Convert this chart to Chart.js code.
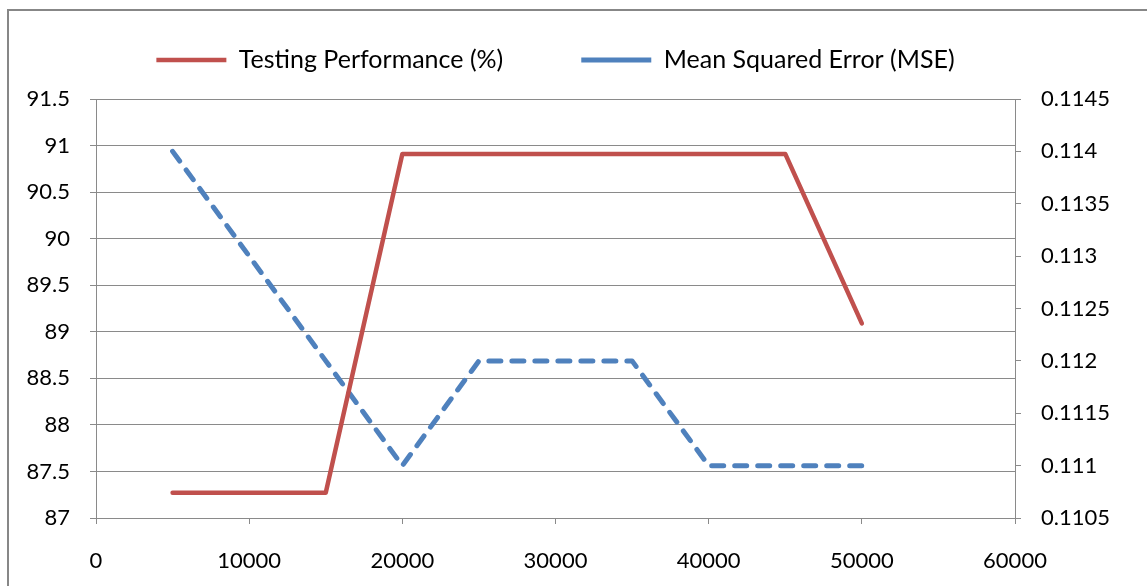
<!DOCTYPE html>
<html>
<head>
<meta charset="utf-8">
<script src="https://cdn.jsdelivr.net/npm/chart.js"></script>
<style>
    html, body { margin: 0; padding: 0; background: #fff; overflow: hidden; }
    #wrap { position: relative; width: 1147px; height: 586px; }
    #frame {
        position: absolute; left: 7px; top: 9px;
        width: 1160px; height: 600px;
        border: 2px solid #878787;
        box-sizing: border-box;
        pointer-events: none;
    }
    canvas { position: absolute; left: 0; top: 0; }
</style>
</head>
<body>
<div id="wrap">
    <canvas id="perfChart" width="1147" height="586"></canvas>
    <div id="frame"></div>
</div>
<script>
// 数据
const iterations = [5000, 10000, 15000, 20000, 25000, 30000, 35000, 40000, 45000, 50000];
const testingPerformance = [87.27, 87.27, 87.27, 90.91, 90.91, 90.91, 90.91, 90.91, 90.91, 89.09];
const meanSquaredError = [0.114, 0.113, 0.112, 0.111, 0.112, 0.112, 0.112, 0.111, 0.111, 0.111];

const xTicks = [0, 10000, 20000, 30000, 40000, 50000, 60000];
const leftTicks = [87, 87.5, 88, 88.5, 89, 89.5, 90, 90.5, 91, 91.5];
const rightTicks = [0.1105, 0.111, 0.1115, 0.112, 0.1125, 0.113, 0.1135, 0.114, 0.1145];

const seriesLabels = ['Testing Performance (%)', 'Mean Squared Error (MSE)'];

const FONT = { family: 'Lato, "Open Sans", sans-serif', size: 22 };
const LEGEND_FONT = { family: 'Lato, "Open Sans", sans-serif', size: 25 };
const GRID = '#8a8a8a';

function toPoints(xs, ys) {
    return xs.map((x, i) => ({ x: x, y: ys[i] }));
}

const ctx = document.getElementById('perfChart').getContext('2d');

new Chart(ctx, {
    type: 'line',
    data: {
        datasets: [
            {
                label: seriesLabels[0],
                data: toPoints(iterations, testingPerformance),
                xAxisID: 'x',
                yAxisID: 'y',
                borderColor: '#C0504D',
                backgroundColor: '#C0504D',
                borderWidth: 4.5,
                borderCapStyle: 'round',
                borderJoinStyle: 'round',
                pointRadius: 0,
                pointStyle: 'line',
                tension: 0,
                fill: false
            },
            {
                label: seriesLabels[1],
                data: toPoints(iterations, meanSquaredError),
                xAxisID: 'x',
                yAxisID: 'y1',
                borderColor: '#4F81BD',
                backgroundColor: '#4F81BD',
                borderWidth: 5,
                borderDash: [12, 11],
                borderCapStyle: 'round',
                borderJoinStyle: 'round',
                pointRadius: 0,
                pointStyle: 'line',
                tension: 0,
                fill: false
            }
        ]
    },
    options: {
        responsive: false,
        animation: false,
        layout: {
            // 右侧留白让图例整体左移
            padding: { top: -30.5, left: 0, right: 36, bottom: 0 }
        },
        plugins: {
            legend: {
                position: 'top',
                align: 'center',
                labels: {
                    usePointStyle: true,
                    pointStyleWidth: 70,
                    padding: 78,
                    color: '#000',
                    font: LEGEND_FONT
                }
            },
            tooltip: { enabled: false }
        },
        scales: {
            x: {
                type: 'linear',
                position: 'bottom',
                min: xTicks[0],
                max: xTicks[xTicks.length - 1],
                afterBuildTicks: s => { s.ticks = xTicks.map(v => ({ value: v })); },
                afterFit: s => { s.height = 68; },
                ticks: {
                    color: '#000',
                    font: FONT,
                    padding: 24,
                    maxRotation: 0,
                    callback: v => String(v)
                },
                grid: { drawOnChartArea: false, color: GRID, tickLength: 6 },
                border: { color: GRID, width: 1 }
            },
            // 顶部占位轴, 只用来留出图例下方的空白
            xTop: {
                type: 'linear',
                position: 'top',
                afterFit: s => { s.height = 16.5; },
                ticks: { display: false },
                grid: { display: false },
                border: { display: false }
            },
            y: {
                type: 'linear',
                position: 'left',
                min: leftTicks[0],
                max: leftTicks[leftTicks.length - 1],
                afterBuildTicks: s => { s.ticks = leftTicks.map(v => ({ value: v })); },
                afterFit: s => { s.width = 96; },
                ticks: {
                    color: '#000',
                    font: FONT,
                    padding: 20,
                    callback: v => String(+v.toFixed(2))
                },
                grid: { color: GRID, tickLength: 6, lineWidth: 1 },
                border: { color: GRID, width: 1 }
            },
            y1: {
                type: 'linear',
                position: 'right',
                min: rightTicks[0],
                max: rightTicks[rightTicks.length - 1],
                afterBuildTicks: s => { s.ticks = rightTicks.map(v => ({ value: v })); },
                afterFit: s => { s.width = 96; },
                ticks: {
                    color: '#000',
                    font: FONT,
                    padding: 20,
                    callback: v => String(+v.toFixed(4))
                },
                grid: { drawOnChartArea: false, color: GRID, tickLength: 6 },
                border: { color: GRID, width: 1 }
            }
        }
    }
});
</script>
</body>
</html>
